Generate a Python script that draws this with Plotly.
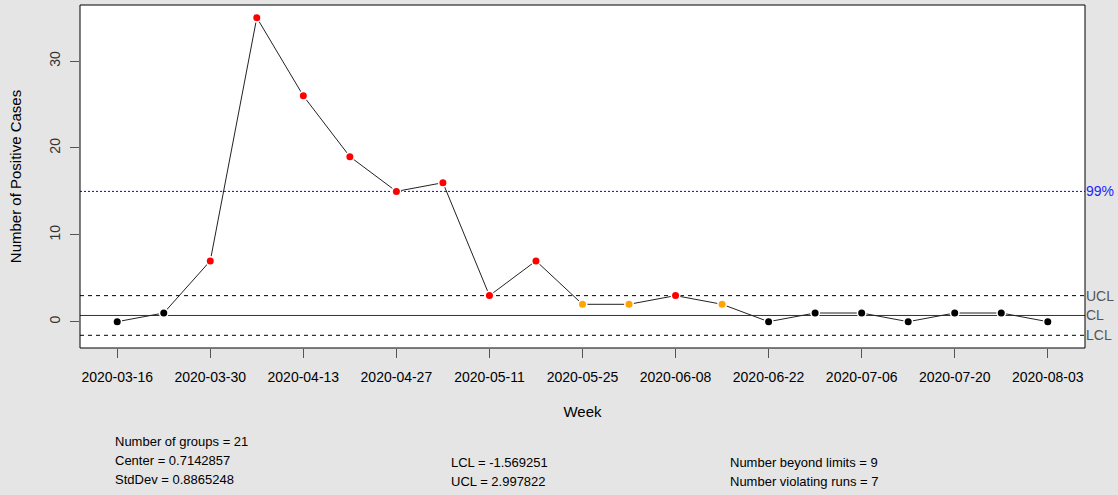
import plotly.graph_objects as go
import pandas as pd

# weekly positive cases
weeks = pd.date_range("2020-03-16", periods=21, freq="7D")
cases = [0, 1, 7, 35, 26, 19, 15, 16, 3, 7, 2, 2, 3, 2, 0, 1, 1, 0, 1, 1, 0]
# point status: 0 = ok, 1 = beyond limits, 2 = violating runs
status = [0, 0, 1, 1, 1, 1, 1, 1, 1, 1, 2, 2, 1, 2, 0, 0, 0, 0, 0, 0, 0]

center = 0.7142857
lcl = -1.569251
ucl = 2.997822
limit99 = 15.0
stats_left = ["Number of groups = 21", "Center = 0.7142857", "StdDev = 0.8865248"]
stats_mid = ["LCL = -1.569251", "UCL = 2.997822"]
stats_right = ["Number beyond limits = 9", "Number violating runs = 7"]

status_colors = {0: "black", 1: "#ff0000", 2: "#ffa500"}
font = "Liberation Sans, Arial, sans-serif"

fig = go.Figure()

# control lines
for yv, dash, col in [(limit99, "2px,2px", "#0000ff"), (ucl, "4px,4px", "black"),
                      (center, "solid", "#333333"), (lcl, "4px,4px", "black")]:
    fig.add_hline(y=yv, line=dict(color=col, width=1, dash=dash), layer="below")

fig.add_trace(go.Scatter(
    x=weeks, y=cases, mode="lines+markers",
    line=dict(color="#222222", width=1),
    marker=dict(size=7, color=[status_colors[s] for s in status],
                line=dict(color="white", width=3)),
    hoverinfo="x+y", showlegend=False,
))
# redraw markers without the white halo
fig.add_trace(go.Scatter(
    x=weeks, y=cases, mode="markers",
    marker=dict(size=7, color=[status_colors[s] for s in status]),
    hoverinfo="skip", showlegend=False,
))

pad = pd.Timedelta(days=7 * 0.8)
fig.update_xaxes(
    range=[weeks[0] - pad, weeks[-1] + pad],
    tickvals=weeks[::2], ticktext=[d.strftime("%Y-%m-%d") for d in weeks[::2]],
    ticks="outside", ticklen=9, tickcolor="#555555", ticklabelstandoff=7,
    showgrid=False, zeroline=False, showline=False,
    tickfont=dict(size=14, color="black", family=font),
    title=dict(text="Week", font=dict(size=15, color="black", family=font), standoff=22),
)
fig.update_yaxes(
    range=[-3.03, 36.46],
    tickvals=[0, 10, 20, 30], tickangle=-90,
    ticks="outside", ticklen=9, tickcolor="#555555", ticklabelstandoff=4,
    showgrid=False, zeroline=False, showline=False,
    tickfont=dict(size=14, color="#333333", family=font),
    title=dict(text="Number of Positive Cases", font=dict(size=15, color="black", family=font), standoff=22),
)

# plot frame
fig.add_shape(type="rect", xref="paper", yref="paper", x0=0, x1=1, y0=0, y1=1,
              line=dict(color="black", width=1))

# right-hand labels
for yv, txt, col in [(limit99, "99%", "#2222ff"), (ucl, "UCL", "#555555"),
                     (center, "CL", "#555555"), (lcl, "LCL", "#555555")]:
    fig.add_annotation(x=1, xref="paper", y=yv, yref="y", text=txt, showarrow=False,
                       xanchor="left", xshift=-1, font=dict(size=14, color=col, family=font))

# summary text below
def add_stats(lines, xpix, ypix0):
    for i, t in enumerate(lines):
        fig.add_annotation(x=(xpix - 80) / 1005, xref="paper",
                           y=-(ypix0 + i * 19 - 348) / 343, yref="paper",
                           text=t, showarrow=False, xanchor="left", yanchor="middle",
                           font=dict(size=13, color="black", family=font))

add_stats(stats_left, 113, 441)
add_stats(stats_mid, 449, 462)
add_stats(stats_right, 728, 462)

fig.update_layout(
    width=1118, height=495,
    margin=dict(l=80, r=33, t=5, b=147),
    paper_bgcolor="#e5e5e5", plot_bgcolor="white",
)

fig.write_html("out.html", config={"displayModeBar": False},
               post_script="document.body.style.margin='0';")
